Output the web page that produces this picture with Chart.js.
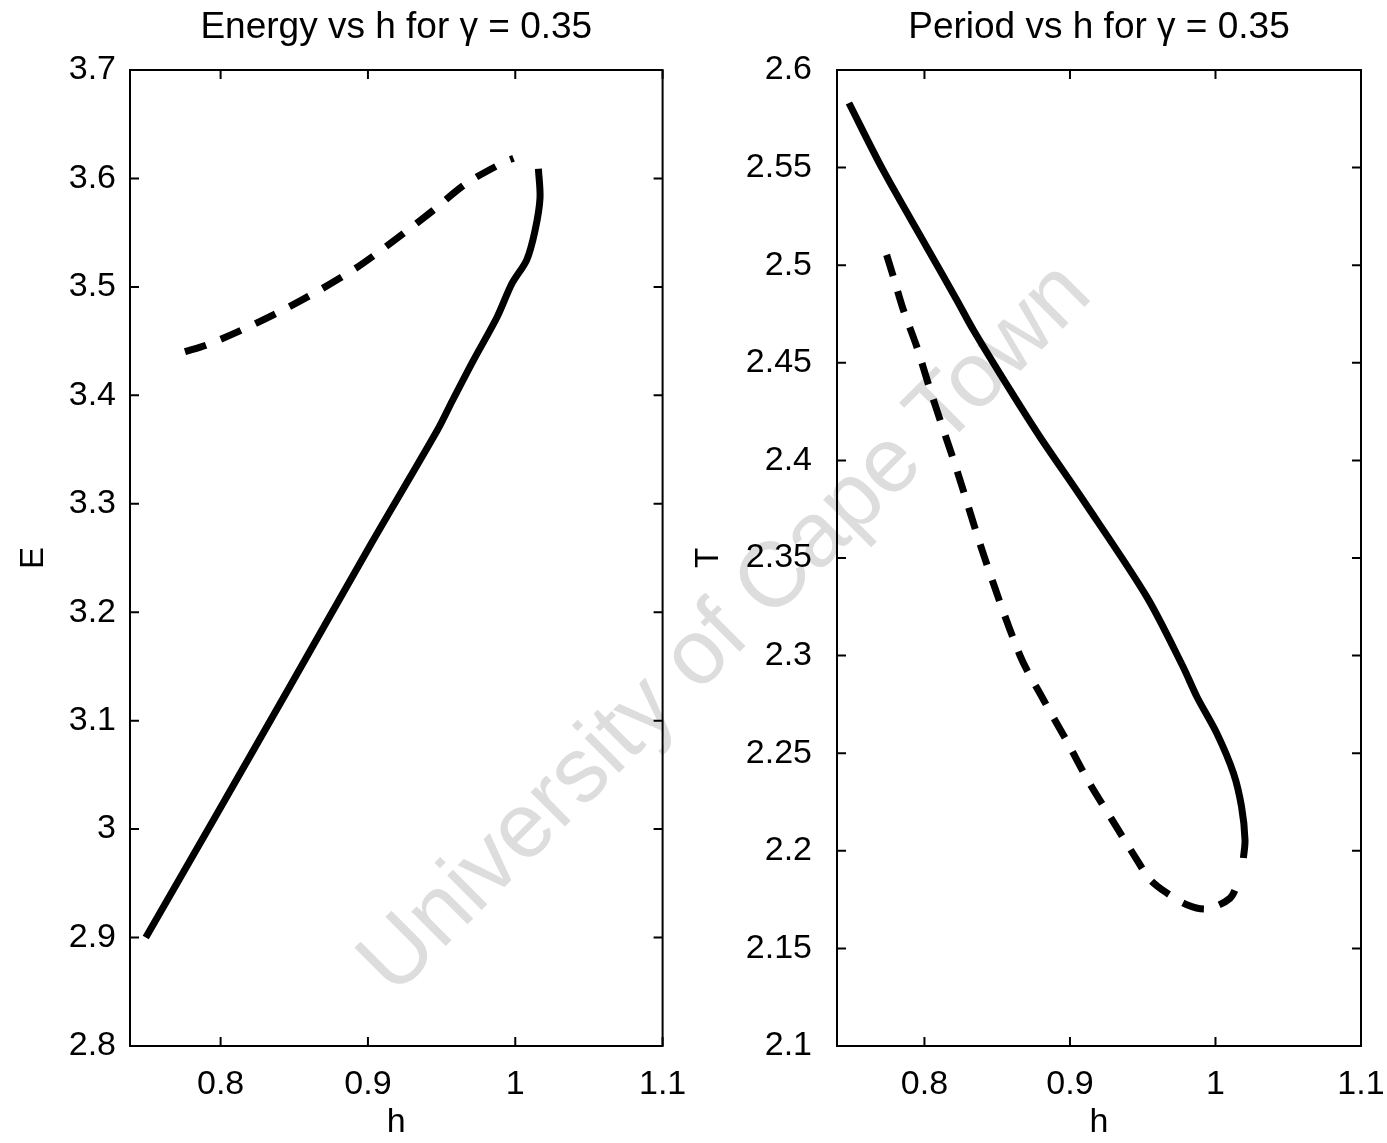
<!DOCTYPE html>
<html>
<head>
<meta charset="utf-8">
<script src="https://cdn.jsdelivr.net/npm/chart.js@4.4.1/dist/chart.umd.min.js"></script>
<style>
  html, body { margin: 0; padding: 0; background: #fff; }
  #wrap { position: relative; width: 1387px; height: 1143px; overflow: hidden; }
  #wrap canvas { position: absolute; top: 0; z-index: 1; }
  #chartE { left: 0; }
  #chartT { left: 680px; }
  #mark {
    position: absolute; left: 722px; top: 625px; z-index: 0;
    transform: translate(-50%, -50%) rotate(-45deg);
    font-family: "Liberation Sans", Arial, sans-serif; font-size: 92px;
    color: #dddddd; white-space: nowrap;
  }
</style>
</head>
<body>
<div id="wrap">
  <div id="mark">University of Cape Town</div>
  <canvas id="chartE" width="700" height="1143"></canvas>
  <canvas id="chartT" width="707" height="1143"></canvas>
</div>
<script>
// ---- data ----
var hTicks = [0.8, 0.9, 1, 1.1];
var energyTicks = [2.8, 2.9, 3, 3.1, 3.2, 3.3, 3.4, 3.5, 3.6, 3.7];
var periodTicks = [2.1, 2.15, 2.2, 2.25, 2.3, 2.35, 2.4, 2.45, 2.5, 2.55, 2.6];

// Energy, solid branch
var energySolidH = [0.7492, 0.7967, 0.8472, 0.9017, 0.9472, 0.9573, 0.9715, 0.9876, 0.9977, 1.0078, 1.0135, 1.0168, 1.0157];
var energySolidE = [2.900, 3.012, 3.132, 3.262, 3.368, 3.395, 3.432, 3.472, 3.503, 3.525, 3.5525, 3.582, 3.609];
// Energy, dashed branch
var energyDashH = [0.7758, 0.7906, 0.8119, 0.8403, 0.8674, 0.8934, 0.9182, 0.9432, 0.9669, 0.9930, 0.9988];
var energyDashE = [3.4403, 3.4465, 3.4587, 3.4772, 3.4972, 3.5187, 3.5433, 3.5694, 3.5955, 3.6155, 3.6186];

// Period, solid branch
var periodSolidH = [0.7481, 0.7715, 0.8014, 0.8222, 0.8336, 0.8588, 0.8794, 0.9090, 0.9527, 0.9777, 0.9873, 1.0009, 1.0124, 1.0179, 1.0203, 1.0192];
var periodSolidT = [2.5831, 2.5488, 2.5095, 2.4822, 2.4668, 2.4361, 2.4120, 2.3797, 2.3302, 2.2943, 2.2788, 2.2602, 2.2397, 2.2226, 2.2055, 2.1963];
// Period, dashed branch
var periodDashH = [0.7740, 0.7786, 0.7855, 0.7947, 0.8039, 0.8130, 0.8222, 0.8414, 0.8657, 0.8817, 0.8979, 0.9127, 0.9296, 0.9459, 0.9551, 0.9665, 0.9803, 0.9940, 1.0100, 1.0158];
var periodDashT = [2.5053, 2.4942, 2.4771, 2.4583, 2.4362, 2.4157, 2.3952, 2.350, 2.300, 2.2775, 2.2561, 2.2356, 2.2151, 2.1955, 2.1852, 2.1784, 2.1724, 2.1702, 2.1757, 2.1842];

var hMinE = 0.7385, hMinT = 0.7399, hMax = 1.1;

function pts(xs, ys) {
    return xs.map(function (v, i) { return { x: v, y: ys[i] }; });
}

// matlab style box with inward ticks on all four sides
var boxTicks = {
    id: 'boxTicks',
    afterDatasetsDraw: function (chart) {
        var ctx = chart.ctx, a = chart.chartArea;
        var x = chart.scales.x, y = chart.scales.y;
        var len = 9;
        ctx.save();
        ctx.strokeStyle = '#000';
        ctx.lineWidth = 2;
        ctx.strokeRect(a.left, a.top, a.right - a.left, a.bottom - a.top);
        ctx.beginPath();
        x.ticks.forEach(function (t) {
            var px = x.getPixelForValue(t.value);
            ctx.moveTo(px, a.bottom); ctx.lineTo(px, a.bottom - len);
            ctx.moveTo(px, a.top); ctx.lineTo(px, a.top + len);
        });
        y.ticks.forEach(function (t) {
            var py = y.getPixelForValue(t.value);
            ctx.moveTo(a.left, py); ctx.lineTo(a.left + len, py);
            ctx.moveTo(a.right, py); ctx.lineTo(a.right - len, py);
        });
        ctx.stroke();
        ctx.restore();
    }
};

var fam = "'Liberation Sans Narrow', 'Liberation Sans', Arial, sans-serif";
var tickFont = { family: fam, size: 34 };

function makeChart(id, cfg) {
    return new Chart(document.getElementById(id), {
        type: 'scatter',
        data: {
            datasets: [
                {
                    data: cfg.solid,
                    showLine: true,
                    borderColor: '#000',
                    borderWidth: 7,
                    pointRadius: 0,
                    tension: 0.3
                },
                {
                    data: cfg.dashed,
                    showLine: true,
                    borderColor: '#000',
                    borderWidth: 7,
                    borderDash: [22, 16],
                    pointRadius: 0,
                    tension: 0.3
                }
            ]
        },
        options: {
            responsive: false,
            animation: false,
            devicePixelRatio: 1,
            layout: { padding: { left: 0, top: 0, right: cfg.padRight, bottom: 0 } },
            plugins: {
                legend: { display: false },
                tooltip: { enabled: false },
                title: {
                    display: true,
                    text: cfg.title,
                    fullSize: false,
                    color: '#000',
                    font: { family: fam, size: 37, weight: 'normal', lineHeight: 1.2 },
                    padding: { top: 6, bottom: 19.6 }
                }
            },
            scales: {
                x: {
                    type: 'linear',
                    min: cfg.hMin,
                    max: hMax,
                    grid: { display: false, drawTicks: false },
                    border: { display: false },
                    afterFit: function (s) { s.height = 97; s.paddingLeft = 0; s.paddingRight = 0; },
                    afterBuildTicks: function (s) { s.ticks = hTicks.map(function (v) { return { value: v }; }); },
                    ticks: {
                        color: '#000',
                        font: tickFont,
                        padding: 18,
                        maxRotation: 0,
                        callback: function (v) { return String(v); }
                    },
                    title: {
                        display: true,
                        text: 'h',
                        color: '#000',
                        font: { family: fam, size: 34, lineHeight: 1.2 },
                        padding: { top: 0, bottom: 0 }
                    }
                },
                y: {
                    type: 'linear',
                    min: cfg.yMin,
                    max: cfg.yMax,
                    grid: { display: false, drawTicks: false },
                    border: { display: false },
                    afterFit: function (s) { s.width = cfg.yWidth; s.paddingTop = 0; s.paddingBottom = 0; },
                    afterBuildTicks: function (s) { s.ticks = cfg.yTicks.map(function (v) { return { value: v }; }); },
                    ticks: {
                        color: '#000',
                        font: tickFont,
                        padding: cfg.tickPad,
                        callback: function (v) { return String(v); }
                    },
                    title: {
                        display: true,
                        text: cfg.yLabel,
                        color: '#000',
                        font: { family: fam, size: 33, lineHeight: 1.2 },
                        padding: { top: cfg.yTitlePad, bottom: 0 }
                    }
                }
            }
        },
        plugins: [boxTicks]
    });
}

makeChart('chartE', {
    title: 'Energy vs h for \u03b3 = 0.35', yLabel: 'E',
    yMin: 2.8, yMax: 3.7, yTicks: energyTicks, hMin: hMinE,
    solid: pts(energySolidH, energySolidE), dashed: pts(energyDashH, energyDashE),
    yWidth: 130, padRight: 37.4, tickPad: 14, yTitlePad: 14
});
makeChart('chartT', {
    title: 'Period vs h for \u03b3 = 0.35', yLabel: 'T',
    yMin: 2.1, yMax: 2.6, yTicks: periodTicks, hMin: hMinT,
    solid: pts(periodSolidH, periodSolidT), dashed: pts(periodDashH, periodDashT),
    yWidth: 157, padRight: 26, tickPad: 25, yTitlePad: 9
});
</script>
</body>
</html>
